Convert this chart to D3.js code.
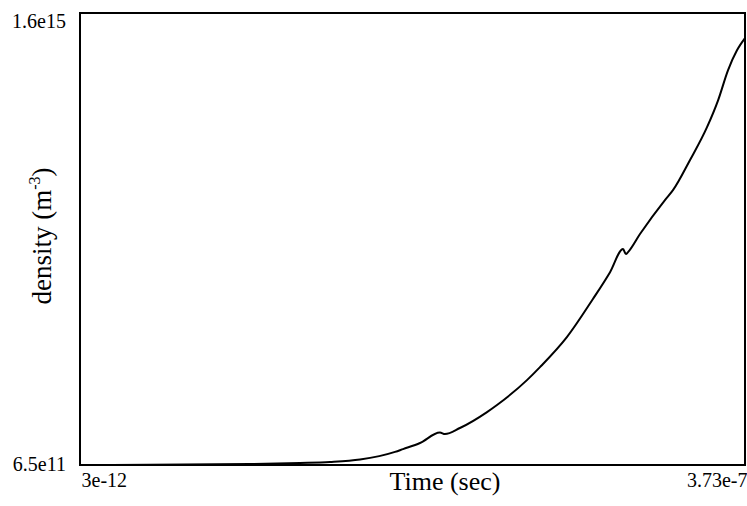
<!DOCTYPE html>
<html>
<head>
<meta charset="utf-8">
<script src="https://cdn.jsdelivr.net/npm/d3@7"></script>
<style>
  html, body { margin: 0; padding: 0; background: #fff; }
  svg { display: block; }
  text { font-family: "Liberation Serif", "DejaVu Serif", serif; fill: #000; }
</style>
</head>
<body>
<svg id="chart" width="747" height="506"></svg>
<script>
// Electron density growth over time
const timeSec = [
  3e-12, 39.3e-9, 95.4e-9, 123.4e-9, 140.2e-9, 157.1e-9, 176.7e-9, 181.2e-9,
  190.7e-9, 201.9e-9, 204.7e-9, 213.1e-9, 228.3e-9, 233.9e-9, 250.7e-9,
  258.0e-9, 273.2e-9, 287.7e-9, 297.3e-9, 304.6e-9, 306.2e-9, 307.4e-9,
  314.1e-9, 328.1e-9, 332.6e-9, 342.1e-9, 351.7e-9, 357.9e-9, 363.5e-9,
  368.5e-9, 373e-9
];
const density = [
  6.5e11, 1.5e12, 4e12, 7.7e12, 1.13e13, 2.0e13, 4.7e13, 5.7e13,
  7.85e13, 1.156e14, 1.10e14, 1.316e14, 1.88e14, 2.13e14, 3.01e14,
  3.47e14, 4.54e14, 5.88e14, 6.83e14, 7.65e14, 7.47e14, 7.54e14,
  8.18e14, 9.38e14, 9.73e14, 1.079e15, 1.196e15, 1.291e15, 1.398e15,
  1.468e15, 1.511e15
];
const xTickValues = [3e-12, 3.73e-7];
const xTickLabels = ["3e-12", "3.73e-7"];
const yTickValues = [6.5e11, 1.6e15];
const yTickLabels = ["6.5e11", "1.6e15"];

const plotLeft = 80, plotRight = 745, plotTop = 13, plotBottom = 465;
const svg = d3.select("#chart");

const x = d3.scaleLinear().domain([xTickValues[0], xTickValues[1]]).range([plotLeft, plotRight]);
const y = d3.scaleLinear().domain([yTickValues[0], yTickValues[1]]).range([plotBottom, plotTop]);

// plot frame
svg.append("rect")
  .attr("x", plotLeft).attr("y", plotTop)
  .attr("width", plotRight - plotLeft).attr("height", plotBottom - plotTop)
  .attr("fill", "none").attr("stroke", "#000").attr("stroke-width", 2);

// density curve
const pts = timeSec.map((t, i) => [t, density[i]]);
svg.append("path")
  .datum(pts)
  .attr("fill", "none").attr("stroke", "#000").attr("stroke-width", 2)
  .attr("stroke-linejoin", "round")
  .attr("d", d3.line().curve(d3.curveMonotoneX).x(d => x(d[0])).y(d => y(d[1])));

// y axis end labels
const yAxis = svg.append("g")
  .attr("transform", `translate(${plotLeft},0)`)
  .call(d3.axisLeft(y).tickValues(yTickValues)
    .tickFormat((d, i) => yTickLabels[i]).tickSize(0).tickPadding(14));
yAxis.select(".domain").remove();
yAxis.selectAll("text")
  .attr("font-size", 20).attr("font-family", null)
  .attr("dy", (d, i) => i === 1 ? "0.72em" : "0.25em");

// x axis end labels
const xAxis = svg.append("g")
  .attr("transform", `translate(0,${plotBottom})`)
  .call(d3.axisBottom(x).tickValues(xTickValues)
    .tickFormat((d, i) => xTickLabels[i]).tickSize(0).tickPadding(8));
xAxis.select(".domain").remove();
xAxis.selectAll("text")
  .attr("font-size", 20).attr("font-family", null)
  .attr("text-anchor", (d, i) => i === 0 ? "start" : "end")
  .attr("dx", (d, i) => i === 0 ? 1 : 2);

// axis titles
svg.append("text")
  .attr("x", 445).attr("y", 490)
  .attr("text-anchor", "middle").attr("font-size", 26)
  .text("Time (sec)");

const yTitle = svg.append("text")
  .attr("transform", "translate(51,236) rotate(-90)")
  .attr("text-anchor", "middle").attr("font-size", 27);
yTitle.append("tspan").text("density (m");
yTitle.append("tspan").attr("font-size", 16).attr("dy", -11).text("-3");
yTitle.append("tspan").attr("dy", 11).text(")");
</script>
</body>
</html>
